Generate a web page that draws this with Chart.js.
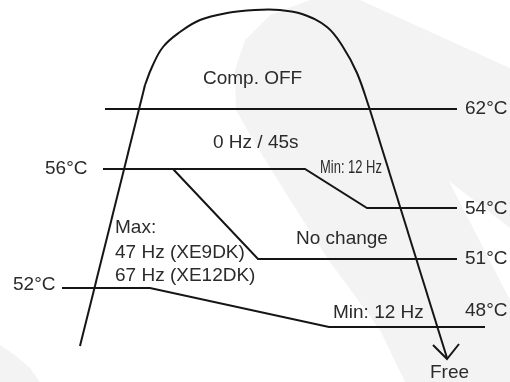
<!DOCTYPE html>
<html>
<head>
<meta charset="utf-8">
<script src="https://cdn.jsdelivr.net/npm/chart.js@4.4.1/dist/chart.umd.min.js"></script>
<style>
  html, body { margin: 0; padding: 0; background: #fff; }
  #wrap { width: 510px; height: 382px; position: relative; }
</style>
</head>
<body>
<div id="wrap"><canvas id="chartCanv"></canvas></div>
<script>
// diagram coordinates (x to the right, y downwards)
const curveLeft  = [[80, 346], [145, 85]];
const curveTop   = [[145, 85], [152, 67], [163, 47], [180, 32], [200, 20], [227, 13], [255, 10],
                    [280, 10], [302, 14], [327, 27], [343, 47], [357, 73], [370, 110]];
const curveRight = [[370, 110], [447, 358]];
const arrowHead  = [[433, 345], [447, 359], [459, 344]];

const line62  = [[105, 109], [457, 109]];
const line56  = [[103, 169], [305, 169], [367, 208], [457, 208]];
const line56b = [[173, 169], [258, 259], [457, 259]];
const line52  = [[62, 288], [150, 288], [329, 327], [485, 327]];

// text labels: left edge x, middle y
const labelTexts = ['Comp. OFF', '0 Hz / 45s', '56°C', '62°C', '54°C', '51°C', '48°C', 'No change',
                    'Max:', '47 Hz (XE9DK)', '67 Hz (XE12DK)', '52°C', 'Min: 12 Hz', 'Free'];
const labelX = [203, 213, 45, 465, 465, 465, 465, 296, 115, 115, 115, 13, 333, 430];
const labelY = [79, 143, 169, 109, 209, 259, 311, 239, 228, 253, 276, 285, 313, 373];
const smallLabel = {text: 'Min: 12 Hz', x: 320, y: 168};

// faint watermark behind the diagram
const shadeBig = [[310, 0], [360, 0], [510, 68], [510, 228], [449, 181], [510, 300], [510, 382],
                  [405, 382], [380, 330], [330, 262], [290, 200], [250, 135], [236, 110],
                  [235, 70], [245, 40], [270, 15]];
const shadeCorner = [[0, 345], [15, 355], [30, 368], [40, 382], [0, 382]];

const toPts = arr => arr.map(p => ({x: p[0], y: p[1]}));

function lineSet(pts, tension) {
    return {
        data: toPts(pts),
        borderColor: '#151515',
        borderWidth: 2,
        pointRadius: 0,
        tension: tension || 0,
        fill: false,
        clip: false
    };
}

const shadePlugin = {
    id: 'shade',
    beforeDatasetsDraw(chart) {
        const ctx = chart.ctx;
        const xs = chart.scales.x, ys = chart.scales.y;
        ctx.save();
        ctx.fillStyle = '#f3f3f3';
        [shadeBig, shadeCorner].forEach(poly => {
            ctx.beginPath();
            poly.forEach((p, i) => {
                const px = xs.getPixelForValue(p[0]), py = ys.getPixelForValue(p[1]);
                if (i === 0) ctx.moveTo(px, py); else ctx.lineTo(px, py);
            });
            ctx.closePath();
            ctx.fill();
        });
        ctx.restore();
    }
};

const textPlugin = {
    id: 'texts',
    afterDatasetsDraw(chart) {
        const ctx = chart.ctx;
        const xs = chart.scales.x, ys = chart.scales.y;
        ctx.save();
        ctx.fillStyle = '#2b2b2b';
        ctx.textAlign = 'left';
        ctx.textBaseline = 'middle';
        ctx.font = '19px "Liberation Sans", Arial, sans-serif';
        labelTexts.forEach((t, i) => {
            ctx.fillText(t, xs.getPixelForValue(labelX[i]), ys.getPixelForValue(labelY[i]));
        });
        // condensed small label
        ctx.translate(xs.getPixelForValue(smallLabel.x), ys.getPixelForValue(smallLabel.y));
        ctx.scale(0.72, 1);
        ctx.font = '18px "Liberation Sans", Arial, sans-serif';
        ctx.fillText(smallLabel.text, 0, 0);
        ctx.restore();
    }
};

const chartCanv = document.getElementById('chartCanv');
const diagram = new Chart(chartCanv, {
    type: 'line',
    data: {
        datasets: [
            lineSet(curveLeft),
            lineSet(curveTop, 0.4),
            lineSet(curveRight),
            lineSet(arrowHead),
            lineSet(line62),
            lineSet(line56),
            lineSet(line56b),
            lineSet(line52)
        ]
    },
    options: {
        responsive: true,
        maintainAspectRatio: false,
        animation: false,
        layout: { padding: 0 },
        plugins: { legend: { display: false }, tooltip: { enabled: false } },
        scales: {
            x: { type: 'linear', min: 0, max: 510, display: false },
            y: { type: 'linear', min: 0, max: 382, reverse: true, display: false }
        }
    },
    plugins: [shadePlugin, textPlugin]
});
</script>
</body>
</html>
